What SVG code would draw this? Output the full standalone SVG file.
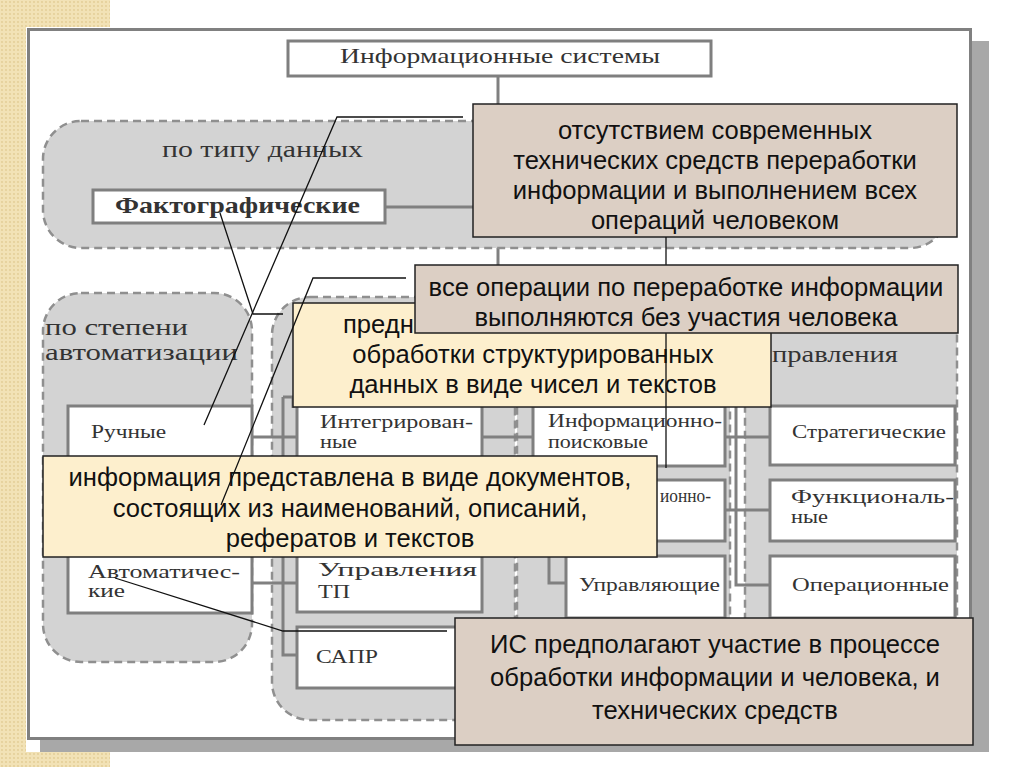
<svg xmlns="http://www.w3.org/2000/svg" width="1024" height="767" viewBox="0 0 1024 767">
<defs>
<pattern id="beige" width="4" height="4" patternUnits="userSpaceOnUse"><rect width="4" height="4" fill="#f2e2b6"/><circle cx="2" cy="2" r="0.9" fill="#e2cc94"/></pattern>
<style>
.grp{fill:#d3d3d3;stroke:#8f8f8f;stroke-width:2.5;stroke-dasharray:8 5}
.box{fill:#fff;stroke:#7f7f7f;stroke-width:3}
.conn{stroke:#808080;stroke-width:3;fill:none}
.call{stroke:#111;stroke-width:1.3;fill:none}
.ser{font-family:"Liberation Serif","Times New Roman",serif;fill:#333}
.hd{font-size:23px}
.lb{font-size:18px}
.sans{font-family:"Liberation Sans",Arial,sans-serif;font-size:25.6px;fill:#111;text-anchor:middle}
.st{text-anchor:start}
.brown{fill:#dccfc4;stroke:#222;stroke-width:1.5}
.yel{fill:#fdefcd;stroke:#222;stroke-width:1.5}
</style>
</defs>
<rect width="1024" height="767" fill="#fff"/>
<rect x="0" y="0" width="110" height="27" fill="url(#beige)"/>
<rect x="0" y="0" width="26" height="767" fill="url(#beige)"/>
<rect x="0" y="752" width="110" height="15" fill="url(#beige)"/>
<rect x="40" y="41" width="949" height="711" fill="#a8a8a8"/>
<rect x="28.5" y="29.5" width="942" height="709" fill="#fff" stroke="#808080" stroke-width="3"/>

<g id="top">
<line class="conn" x1="498" y1="76" x2="498" y2="300"/>
<rect class="box" x="288" y="41" width="423" height="35"/>
<text class="ser" x="340" y="63" font-size="22" textLength="320" lengthAdjust="spacingAndGlyphs">Информационные системы</text>
</g>

<g id="g-type">
<rect class="grp" x="43" y="121" width="905" height="127" rx="38"/>
<text class="ser hd" x="162" y="157" font-size="25" textLength="201" lengthAdjust="spacingAndGlyphs">по типу данных</text>
<line class="conn" x1="385" y1="207" x2="498" y2="207"/>
<rect class="box" x="93" y="190" width="292" height="33"/>
<text class="ser" x="115" y="213" font-size="24" font-weight="bold" textLength="245" lengthAdjust="spacingAndGlyphs">Фактографические</text>
</g>

<g id="g-auto">
<rect class="grp" x="43" y="293" width="209" height="369" rx="38"/>
<text class="ser hd" x="45" y="335" textLength="143" lengthAdjust="spacingAndGlyphs">по степени</text>
<text class="ser hd" x="45" y="360" textLength="193" lengthAdjust="spacingAndGlyphs">автоматизации</text>
<rect class="box" x="68" y="406" width="184" height="70"/>
<text class="ser lb" x="91" y="438" textLength="75" lengthAdjust="spacingAndGlyphs">Ручные</text>
<rect class="box" x="68" y="545" width="184" height="68"/>
<text class="ser lb" x="88" y="578" textLength="152" lengthAdjust="spacingAndGlyphs">Автоматичес-</text>
<text class="ser lb" x="88" y="597" textLength="37" lengthAdjust="spacingAndGlyphs">кие</text>
</g>

<g id="g-sphere">
<rect class="grp" x="272" y="297" width="243" height="423" rx="38"/>
<rect class="box" x="297" y="398" width="185" height="72"/>
<text class="ser lb" x="320" y="428" textLength="153" lengthAdjust="spacingAndGlyphs">Интегрирован-</text>
<text class="ser lb" x="320" y="448" textLength="37" lengthAdjust="spacingAndGlyphs">ные</text>
<rect class="box" x="297" y="540" width="185" height="72"/>
<text class="ser lb" x="318" y="576" textLength="159" lengthAdjust="spacingAndGlyphs">Управления</text>
<text class="ser lb" x="318" y="598" textLength="32" lengthAdjust="spacingAndGlyphs">ТП</text>
<rect class="box" x="297" y="627" width="185" height="61"/>
<text class="ser lb" x="316" y="663" textLength="62" lengthAdjust="spacingAndGlyphs">САПР</text>
</g>

<g id="g-use">
<rect class="grp" x="517" y="297" width="213" height="390" rx="38"/>
<rect class="box" x="533" y="406" width="192" height="60"/>
<text class="ser lb" x="548" y="427" textLength="174" lengthAdjust="spacingAndGlyphs">Информационно-</text>
<text class="ser lb" x="548" y="448" textLength="100" lengthAdjust="spacingAndGlyphs">поисковые</text>
<rect class="box" x="533" y="480" width="192" height="61"/>
<text class="ser lb" x="660" y="502" textLength="51" lengthAdjust="spacingAndGlyphs">ионно-</text>
<rect class="box" x="566" y="556" width="159" height="62"/>
<text class="ser lb" x="579" y="591" textLength="141" lengthAdjust="spacingAndGlyphs">Управляющие</text>
</g>

<g id="g-level">
<rect class="grp" x="745" y="297" width="212" height="390" rx="38"/>
<text class="ser hd" x="772" y="362" textLength="126" lengthAdjust="spacingAndGlyphs">правления</text>
<rect class="box" x="770" y="406" width="185" height="59"/>
<text class="ser lb" x="792" y="438" textLength="154" lengthAdjust="spacingAndGlyphs">Стратегические</text>
<rect class="box" x="770" y="480" width="185" height="61"/>
<text class="ser lb" x="791" y="503" textLength="163" lengthAdjust="spacingAndGlyphs">Функциональ-</text>
<text class="ser lb" x="791" y="523" textLength="37" lengthAdjust="spacingAndGlyphs">ные</text>
<rect class="box" x="770" y="556" width="185" height="62"/>
<text class="ser lb" x="792" y="591" textLength="157" lengthAdjust="spacingAndGlyphs">Операционные</text>
</g>

<g id="connectors">
<path class="conn" d="M252 437 H297 M252 583 H297 M283 397 V655 H297 M283 397 H293 V408"/>
<path class="conn" d="M482 437 H533 M549 466 V583 H566"/>
<path class="conn" d="M725 437 H770 M725 510 H770 M736 400 V585 H770"/>
</g>

<g id="note-fact">
<rect class="yel" x="293" y="303" width="478" height="104"/>
<text class="sans st" x="343" y="333">предн</text>
<text class="sans" x="533" y="363">обработки структурированных</text>
<text class="sans" x="533" y="393">данных в виде чисел и текстов</text>
</g>

<g id="note-doc">
<rect class="yel" x="43" y="456" width="614" height="101"/>
<text class="sans" x="350" y="486">информация представлена в виде документов,</text>
<text class="sans" x="350" y="517">состоящих из наименований, описаний,</text>
<text class="sans" x="350" y="547">рефератов и текстов</text>
</g>

<g id="note-manual">
<rect class="brown" x="473" y="104" width="484" height="133"/>
<text class="sans" x="715" y="139">отсутствием современных</text>
<text class="sans" x="715" y="169">технических средств переработки</text>
<text class="sans" x="715" y="199">информации и выполнением всех</text>
<text class="sans" x="715" y="229">операций человеком</text>
</g>

<g id="callout-5">
<line class="call" x1="666" y1="237" x2="666" y2="468"/>
</g>

<g id="note-automatic">
<rect class="brown" x="415" y="265" width="543" height="68"/>
<text class="sans" x="686" y="296">все операции по переработке информации</text>
<text class="sans" x="686" y="326">выполняются без участия человека</text>
</g>

<g id="note-automated">
<rect class="brown" x="455" y="618" width="518" height="127"/>
<text class="sans" x="715" y="653">ИС предполагают участие в процессе</text>
<text class="sans" x="715" y="686">обработки информации и человека, и</text>
<text class="sans" x="715" y="719">технических средств</text>
</g>

<g id="callouts">
<path class="call" d="M463 117 H337 L204 425"/>
<path class="call" d="M220 213 L253 314 H283"/>
<path class="call" d="M406 278 H313 L221 505"/>
<path class="call" d="M115 578 L283 631 H447"/>
</g>
</svg>
